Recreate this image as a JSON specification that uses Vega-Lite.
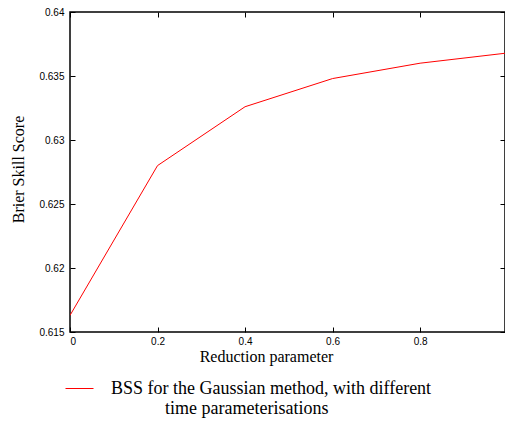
{
  "$schema": "https://vega.github.io/schema/vega-lite/v6.json",
  "width": 435,
  "height": 320,
  "autosize": {"type": "none"},
  "padding": {"left": 70, "top": 12, "right": 0, "bottom": 91},
  "background": "white",
  "config": {
    "view": {"stroke": "black", "strokeWidth": 1.5},
    "axis": {"grid": false, "domain": false, "tickColor": "black", "labelColor": "black", "titleColor": "black"}
  },
  "data": {
    "values": [
      {"x": 0.0, "bss": 0.6163, "series": "BSS"},
      {"x": 0.2, "bss": 0.6280, "series": "BSS"},
      {"x": 0.4, "bss": 0.6326, "series": "BSS"},
      {"x": 0.6, "bss": 0.6348, "series": "BSS"},
      {"x": 0.8, "bss": 0.6360, "series": "BSS"},
      {"x": 1.0, "bss": 0.6368, "series": "BSS"}
    ]
  },
  "resolve": {"axis": {"x": "independent", "y": "independent"}},
  "layer": [
    {
      "mark": {"type": "line", "strokeWidth": 1, "clip": true},
      "encoding": {
        "x": {
          "field": "x", "type": "quantitative",
          "scale": {"domain": [0, 0.994], "nice": false, "zero": false},
          "axis": {
            "title": "Reduction parameter",
            "values": [0, 0.2, 0.4, 0.6, 0.8],
            "format": "~g",
            "tickSize": -5,
            "labelPadding": 9,
            "labelFont": "Liberation Sans", "labelFontSize": 10,
            "titleFont": "Liberation Serif", "titleFontSize": 16, "titleFontWeight": "normal",
            "titlePadding": 2,
            "titleX": 196
          }
        },
        "y": {
          "field": "bss", "type": "quantitative",
          "scale": {"domain": [0.615, 0.64], "nice": false, "zero": false},
          "axis": {
            "title": "Brier Skill Score",
            "values": [0.615, 0.62, 0.625, 0.63, 0.635, 0.64],
            "format": "~g",
            "tickSize": -5,
            "labelPadding": 11,
            "labelFont": "Liberation Sans", "labelFontSize": 10,
            "titleFont": "Liberation Serif", "titleFontSize": 16, "titleFontWeight": "normal",
            "titlePadding": 12,
            "titleY": 157
          }
        },
        "color": {
          "field": "series", "type": "nominal",
          "scale": {"range": ["red"]},
          "legend": {
            "orient": "none",
            "legendX": -5,
            "legendY": 362,
            "title": null,
            "symbolType": "stroke",
            "symbolSize": 784,
            "symbolStrokeWidth": 1,
            "labelFont": "Liberation Serif",
            "labelFontSize": 18,
            "labelColor": "black",
            "labelOffset": 17,
            "labelLimit": 500,
            "labelExpr": "['BSS for the Gaussian method, with different', '\u200b\u2003\u2003\u2003time parameterisations']"
          }
        }
      }
    },
    {
      "mark": {"type": "line", "strokeWidth": 1, "strokeOpacity": 0, "clip": true},
      "encoding": {
        "x": {
          "field": "x", "type": "quantitative",
          "axis": {"orient": "top", "title": null, "labels": false, "values": [0, 0.2, 0.4, 0.6, 0.8], "tickSize": -5}
        },
        "y": {
          "field": "bss", "type": "quantitative",
          "axis": {"orient": "right", "title": null, "labels": false, "values": [0.615, 0.62, 0.625, 0.63, 0.635, 0.64], "tickSize": -5}
        },
        "color": {"field": "series", "type": "nominal"}
      }
    }
  ]
}
